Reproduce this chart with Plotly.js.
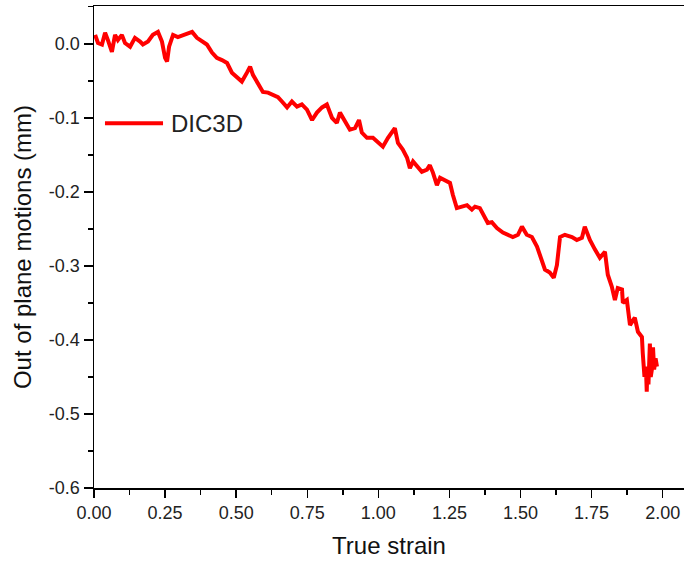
<!DOCTYPE html>
<html>
<head>
<meta charset="utf-8">
<script src="https://cdn.plot.ly/plotly-3.0.1.min.js"></script>
<style>html,body{margin:0;padding:0;background:#fff;}#chart{width:684px;height:563px;}</style>
</head>
<body>
<div id="chart"></div>
<script>
// True strain (x) and out-of-plane motion in mm (y)
const trueStrain = [
  0.004, 0.014, 0.028, 0.039, 0.049, 0.063, 0.074, 0.084, 0.098, 0.109,
  0.127, 0.144, 0.162, 0.172, 0.190, 0.207, 0.225, 0.239, 0.250, 0.257,
  0.264, 0.278, 0.295, 0.313, 0.331, 0.345, 0.362, 0.380, 0.397, 0.415,
  0.432, 0.450, 0.468, 0.485, 0.503, 0.520, 0.538, 0.549, 0.559, 0.577,
  0.594, 0.612, 0.629, 0.647, 0.661, 0.679, 0.696, 0.714, 0.731, 0.749,
  0.767, 0.784, 0.802, 0.819, 0.837, 0.854, 0.865, 0.883, 0.900, 0.918,
  0.932, 0.942, 0.960, 0.981, 0.999, 1.016, 1.034, 1.051, 1.058, 1.069,
  1.086, 1.101, 1.111, 1.122, 1.139, 1.153, 1.171, 1.181, 1.192, 1.206,
  1.217, 1.234, 1.252, 1.262, 1.276, 1.294, 1.312, 1.329, 1.340, 1.357,
  1.375, 1.385, 1.399, 1.417, 1.438, 1.456, 1.473, 1.491, 1.505, 1.522,
  1.540, 1.558, 1.568, 1.586, 1.603, 1.617, 1.628, 1.639, 1.656, 1.681,
  1.698, 1.716, 1.726, 1.744, 1.762, 1.779, 1.797, 1.807, 1.821, 1.832,
  1.842, 1.857, 1.860, 1.874, 1.885, 1.902, 1.913, 1.927, 1.930, 1.936,
  1.941, 1.944, 1.946, 1.950, 1.955, 1.958, 1.962, 1.966, 1.970, 1.975,
  1.980
];
const outOfPlane = [
  0.012, 0.001, -0.001, 0.015, 0.005, -0.011, 0.012, 0.005, 0.012, 0.001,
  -0.004, 0.008, 0.003, -0.001, 0.003, 0.012, 0.016, 0.003, -0.019, -0.024,
  -0.004, 0.012, 0.009, 0.012, 0.015, 0.016, 0.008, 0.003, -0.001, -0.012,
  -0.019, -0.022, -0.026, -0.039, -0.045, -0.051, -0.039, -0.031, -0.042, -0.053,
  -0.065, -0.066, -0.069, -0.072, -0.078, -0.086, -0.078, -0.085, -0.082, -0.089,
  -0.103, -0.093, -0.086, -0.082, -0.100, -0.107, -0.093, -0.105, -0.116, -0.114,
  -0.103, -0.120, -0.127, -0.127, -0.134, -0.139, -0.127, -0.116, -0.114, -0.134,
  -0.143, -0.154, -0.168, -0.159, -0.166, -0.173, -0.170, -0.164, -0.174, -0.191,
  -0.181, -0.184, -0.188, -0.204, -0.222, -0.220, -0.218, -0.224, -0.220, -0.222,
  -0.234, -0.242, -0.241, -0.249, -0.255, -0.258, -0.261, -0.258, -0.247, -0.258,
  -0.261, -0.274, -0.285, -0.305, -0.309, -0.316, -0.299, -0.261, -0.258, -0.261,
  -0.265, -0.262, -0.247, -0.265, -0.278, -0.289, -0.281, -0.312, -0.328, -0.346,
  -0.330, -0.332, -0.350, -0.346, -0.380, -0.370, -0.389, -0.396, -0.418, -0.450,
  -0.436, -0.470, -0.440, -0.460, -0.405, -0.450, -0.440, -0.410, -0.440, -0.425,
  -0.436
];
const seriesName = "DIC3D";
const xTickVals = [0, 0.25, 0.5, 0.75, 1.0, 1.25, 1.5, 1.75, 2.0];
const xTickText = ["0.00", "0.25", "0.50", "0.75", "1.00", "1.25", "1.50", "1.75", "2.00"];
const yTickVals = [0, -0.1, -0.2, -0.3, -0.4, -0.5, -0.6];
const yTickText = ["0.0", "-0.1", "-0.2", "-0.3", "-0.4", "-0.5", "-0.6"];
const xTitle = "True strain";
const yTitle = "Out of plane motions (mm)";

const FONT = "Liberation Sans, Arial, sans-serif";

const trace = {
  x: trueStrain, y: outOfPlane, type: "scatter", mode: "lines",
  name: seriesName, showlegend: false,
  line: {color: "#ff0000", width: 4}
};

const layout = {
  width: 684, height: 563,
  margin: {l: 94, r: 0, t: 6, b: 75, pad: 0},
  paper_bgcolor: "#ffffff", plot_bgcolor: "#ffffff",
  font: {family: FONT, color: "#222"},
  showlegend: false,
  xaxis: {
    range: [0, 2.075], showgrid: false, zeroline: false,
    showline: true, linecolor: "#000", linewidth: 1.5, mirror: true,
    ticks: "outside", ticklen: 8, tickwidth: 1.5, tickcolor: "#000",
    tickvals: xTickVals, ticktext: xTickText,
    tickfont: {size: 18, color: "#222", family: FONT},
    minor: {dtick: 0.125, tick0: 0, ticks: "outside", ticklen: 5, tickwidth: 1.5, tickcolor: "#000", showgrid: false},
    title: {text: xTitle, font: {size: 24, color: "#111", family: FONT}, standoff: 15}
  },
  yaxis: {
    range: [-0.6, 0.051], showgrid: false, zeroline: false,
    showline: true, linecolor: "#000", linewidth: 1.5, mirror: false,
    ticks: "outside", ticklen: 9, tickwidth: 1.5, tickcolor: "#000",
    tickvals: yTickVals, ticktext: yTickText,
    tickfont: {size: 18, color: "#222", family: FONT},
    minor: {dtick: 0.05, tick0: 0, ticks: "outside", ticklen: 5, tickwidth: 1.5, tickcolor: "#000", showgrid: false},
    title: {text: yTitle, font: {size: 24, color: "#111", family: FONT}, standoff: 10}
  },
  shapes: [{
    type: "line", xref: "paper", yref: "paper",
    x0: 0.0186, x1: 0.117, y0: 0.757, y1: 0.757,
    line: {color: "#ff0000", width: 4}
  }],
  annotations: [{
    xref: "paper", yref: "paper", x: 0.127, y: 0.757,
    xanchor: "left", yanchor: "middle", showarrow: false,
    text: seriesName, font: {size: 24, color: "#222", family: FONT}
  }]
};

Plotly.newPlot("chart", [trace], layout, {displayModeBar: false, staticPlot: true});
</script>
</body>
</html>
